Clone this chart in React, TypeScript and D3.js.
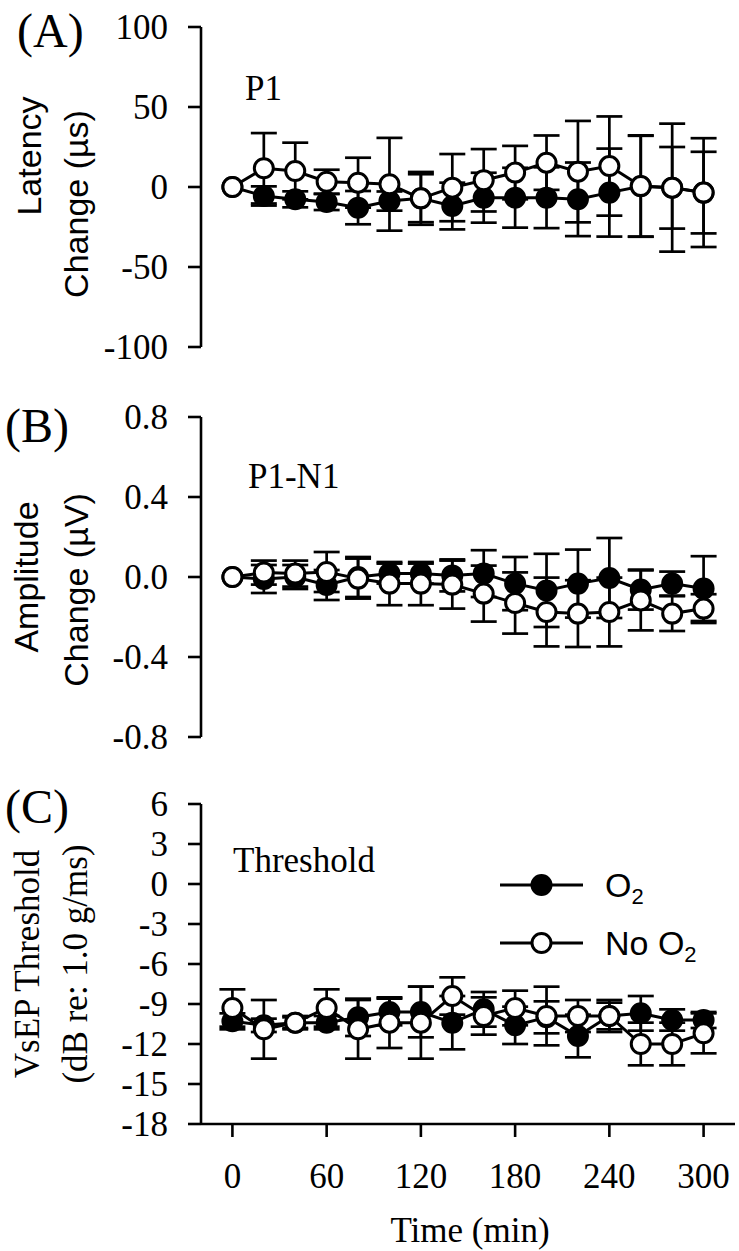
import React from "react";
import * as d3 from "d3";

const time = [0, 20, 40, 60, 80, 100, 120, 140, 160, 180, 200, 220, 240, 260, 280, 300];

const latO2 = [0, -5.6, -7.7, -9.4, -12.9, -8.8, -7.0, -11.9, -6.7, -6.7, -6.7, -7.7, -3.5, 0.5, -0.5, -3.5];
const latO2Err = [0, 6, 5, 5, 10.4, 6, 15, 14.6, 15.6, 18.7, 19, 23, 27.5, 31.5, 25.5, 25.5];
const latNoO2 = [0, 11.7, 10, 3.3, 2.7, 1.7, -7.1, -0.4, 4.2, 9, 15.2, 9.6, 13.1, 0.6, -0.4, -3.5];
const latNoO2Err = [0, 22, 17.7, 7.5, 15.6, 29, 16.5, 21, 19.5, 16.7, 17, 31.7, 31, 31.7, 40, 34];

const ampO2 = [0, -0.01, 0, -0.04, 0, 0.017, 0.017, 0.008, 0.017, -0.033, -0.067, -0.033, -0.005, -0.063, -0.033, -0.058];
const ampO2Err = [0, 0.07, 0.06, 0.075, 0.1, 0.05, 0.05, 0.08, 0.117, 0.133, 0.183, 0.17, 0.2, 0.1, 0.06, 0.162];
const ampNoO2 = [0, 0.022, 0.017, 0.025, -0.008, -0.033, -0.033, -0.038, -0.083, -0.13, -0.175, -0.183, -0.175, -0.117, -0.183, -0.158];
const ampNoO2Err = [0, 0.06, 0.065, 0.1, 0.1, 0.108, 0.108, 0.12, 0.14, 0.153, 0.172, 0.167, 0.172, 0.15, 0.087, 0.072];

const thrO2 = [-10.3, -10.6, -10.4, -10.4, -10.0, -9.6, -9.6, -10.4, -9.4, -10.6, -10.0, -11.4, -9.9, -9.7, -10.2, -10.2];
const thrO2Err = [0.6, 0.5, 0.4, 0.5, 1.4, 1.0, 1.9, 2.0, 1.3, 1.4, 1.2, 1.6, 1.0, 1.3, 0.8, 0.6];
const thrNoO2 = [-9.3, -10.9, -10.4, -9.3, -10.9, -10.4, -10.4, -8.4, -9.9, -9.3, -9.9, -9.9, -9.9, -12.0, -12.0, -11.2];
const thrNoO2Err = [1.4, 2.2, 0.5, 1.4, 2.2, 1.9, 2.7, 1.4, 1.4, 1.3, 2.2, 1.2, 1.2, 1.6, 1.6, 1.5];

const ticksA = [100, 50, 0, -50, -100];
const ticksB = [0.8, 0.4, 0.0, -0.4, -0.8];
const ticksC = [6, 3, 0, -3, -6, -9, -12, -15, -18];
const ticksX = [0, 60, 120, 180, 240, 300];

const SERIF = "'Liberation Serif', 'Times New Roman', serif";
const SANS = "'Liberation Sans', Arial, sans-serif";
const AX_X = 201;
const R = 9.5;
const SW = 3;
const CAP = 13;

const x = d3.scaleLinear().domain([-20, 320]).range([201, 735]);

function Series({ y, vals, errs, filled }: any) {
  const line = d3
    .line<number>()
    .x((_, i) => x(time[i]))
    .y((v) => y(v));
  return (
    <g>
      {vals.map((v: number, i: number) => {
        const e = errs[i];
        if (!e) return null;
        const cx = x(time[i]);
        const y1 = y(v + e);
        const y2 = y(v - e);
        return (
          <g key={i} stroke="#000" strokeWidth={2.7}>
            <line x1={cx} x2={cx} y1={y1} y2={y2} />
            <line x1={cx - CAP} x2={cx + CAP} y1={y1} y2={y1} />
            <line x1={cx - CAP} x2={cx + CAP} y1={y2} y2={y2} />
          </g>
        );
      })}
      <path d={line(vals) || ""} fill="none" stroke="#000" strokeWidth={SW} />
      {vals.map((v: number, i: number) => (
        <circle key={i} cx={x(time[i])} cy={y(v)} r={R} fill={filled ? "#000" : "#fff"} stroke="#000" strokeWidth={SW} />
      ))}
    </g>
  );
}

function YAxis({ y, ticks, fmt }: any) {
  const [d0, d1] = y.domain();
  return (
    <g>
      <line x1={AX_X} x2={AX_X} y1={y(d1)} y2={y(d0)} stroke="#000" strokeWidth={2.6} />
      {ticks.map((t: number) => (
        <g key={t}>
          <line x1={AX_X - 13} x2={AX_X} y1={y(t)} y2={y(t)} stroke="#000" strokeWidth={2.6} />
          <text x={168} y={y(t) + 12} textAnchor="end" fontFamily={SERIF} fontSize={35}>
            {fmt(t)}
          </text>
        </g>
      ))}
    </g>
  );
}

export default function App() {
  const yA = d3.scaleLinear().domain([-100, 100]).range([347, 27]);
  const yB = d3.scaleLinear().domain([-0.8, 0.8]).range([737, 417]);
  const yC = d3.scaleLinear().domain([-18, 6]).range([1124, 804]);
  const fmtInt = (t: number) => (t < 0 ? "-" + Math.abs(t) : String(t));
  const fmtB = (t: number) => (t < 0 ? "-" + Math.abs(t).toFixed(1) : t.toFixed(1));

  return (
    <svg width={739} height={1251} style={{ position: "absolute", left: 0, top: 0, background: "#fff" }}>
      <rect width={739} height={1251} fill="#fff" />

      {/* Panel A */}
      <text x={17} y={47} fontFamily={SERIF} fontSize={48}>(A)</text>
      <YAxis y={yA} ticks={ticksA} fmt={fmtInt} />
      <text transform="translate(41,156) rotate(-90)" textAnchor="middle" fontFamily={SANS} fontSize={34}>Latency</text>
      <text transform="translate(88,204) rotate(-90)" textAnchor="middle" fontFamily={SANS} fontSize={34}>Change (µs)</text>
      <text x={245} y={100} fontFamily={SERIF} fontSize={35}>P1</text>
      <Series y={yA} vals={latO2} errs={latO2Err} filled />
      <Series y={yA} vals={latNoO2} errs={latNoO2Err} filled={false} />

      {/* Panel B */}
      <text x={5} y={442} fontFamily={SERIF} fontSize={48}>(B)</text>
      <YAxis y={yB} ticks={ticksB} fmt={fmtB} />
      <text transform="translate(38,577) rotate(-90)" textAnchor="middle" fontFamily={SANS} fontSize={34}>Amplitude</text>
      <text transform="translate(88,590) rotate(-90)" textAnchor="middle" fontFamily={SANS} fontSize={34}>Change (µV)</text>
      <text x={248} y={488} fontFamily={SERIF} fontSize={35}>P1-N1</text>
      <Series y={yB} vals={ampO2} errs={ampO2Err} filled />
      <Series y={yB} vals={ampNoO2} errs={ampNoO2Err} filled={false} />

      {/* Panel C */}
      <text x={5} y={823} fontFamily={SERIF} fontSize={48}>(C)</text>
      <YAxis y={yC} ticks={ticksC} fmt={fmtInt} />
      <text transform="translate(39,964) rotate(-90)" textAnchor="middle" fontFamily={SERIF} fontSize={35}>VsEP Threshold</text>
      <text transform="translate(87,964) rotate(-90)" textAnchor="middle" fontFamily={SERIF} fontSize={35}>(dB re: 1.0 g/ms)</text>
      <text x={233} y={872} fontFamily={SERIF} fontSize={35}>Threshold</text>

      {/* x axis */}
      <line x1={AX_X} x2={735} y1={1124} y2={1124} stroke="#000" strokeWidth={2.6} />
      {ticksX.map((t) => (
        <g key={t}>
          <line x1={x(t)} x2={x(t)} y1={1124} y2={1137} stroke="#000" strokeWidth={2.6} />
          <text x={x(t)} y={1188} textAnchor="middle" fontFamily={SERIF} fontSize={35}>{t}</text>
        </g>
      ))}
      <text x={470} y={1242} textAnchor="middle" fontFamily={SERIF} fontSize={35}>Time (min)</text>

      <Series y={yC} vals={thrO2} errs={thrO2Err} filled />
      <Series y={yC} vals={thrNoO2} errs={thrNoO2Err} filled={false} />

      {/* legend */}
      <g>
        <line x1={500} x2={583} y1={885} y2={885} stroke="#000" strokeWidth={SW} />
        <circle cx={541.5} cy={885} r={R} fill="#000" stroke="#000" strokeWidth={SW} />
        <text x={605} y={897} fontFamily={SANS} fontSize={34}>
          O<tspan fontSize={22} dy={7}>2</tspan>
        </text>
        <line x1={500} x2={583} y1={943} y2={943} stroke="#000" strokeWidth={SW} />
        <circle cx={541.5} cy={943} r={R} fill="#fff" stroke="#000" strokeWidth={SW} />
        <text x={605} y={955} fontFamily={SANS} fontSize={34}>
          No O<tspan fontSize={22} dy={7}>2</tspan>
        </text>
      </g>
    </svg>
  );
}
